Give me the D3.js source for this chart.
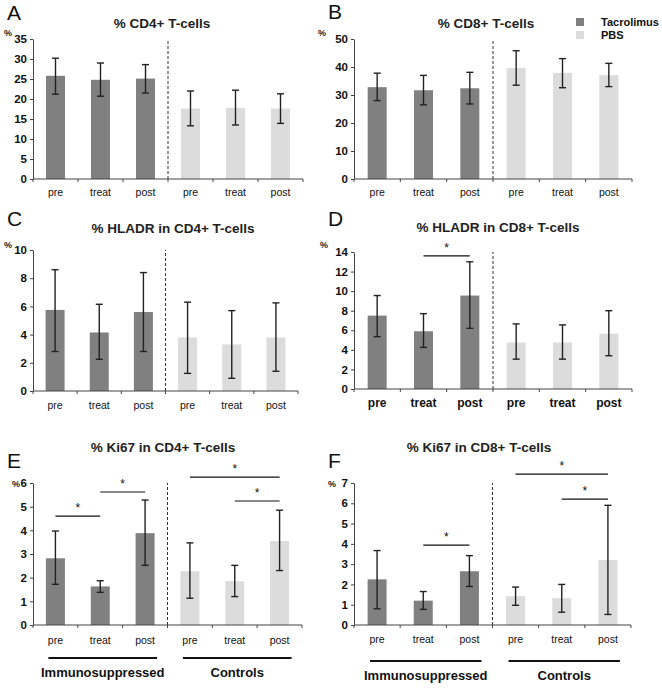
<!DOCTYPE html>
<html>
<head>
<meta charset="utf-8">
<script src="https://cdn.jsdelivr.net/npm/d3@7"></script>
<style>
  body { margin: 0; background: #fff; }
  svg { display: block; font-family: "Liberation Sans", Arial, sans-serif; }
</style>
</head>
<body>
<div id="chart"></div>
<script>
// categories and series
var categories = ["pre", "treat", "post", "pre", "treat", "post"];
var seriesNames = ["Tacrolimus", "PBS"];
var groupNames = ["Immunosuppressed", "Controls"];

// A: % CD4+ T-cells
var cd4Mean = [25.8, 24.8, 25.1, 17.6, 17.8, 17.6];
var cd4Low = [21.2, 20.7, 21.5, 13.3, 13.5, 13.9];
var cd4High = [30.2, 29.0, 28.6, 22.0, 22.2, 21.3];

// B: % CD8+ T-cells
var cd8Mean = [32.8, 31.7, 32.4, 39.6, 37.9, 37.1];
var cd8Low = [28.0, 26.5, 26.8, 33.5, 32.6, 33.0];
var cd8High = [37.8, 37.0, 38.1, 45.8, 43.0, 41.3];

// C: % HLADR in CD4+
var hlaCd4Mean = [5.75, 4.15, 5.6, 3.8, 3.3, 3.8];
var hlaCd4Low = [2.8, 2.25, 2.8, 1.25, 0.9, 1.4];
var hlaCd4High = [8.6, 6.15, 8.4, 6.3, 5.7, 6.25];

// D: % HLADR in CD8+
var hlaCd8Mean = [7.5, 5.9, 9.55, 4.75, 4.75, 5.65];
var hlaCd8Low = [5.35, 4.25, 6.2, 3.05, 3.05, 3.4];
var hlaCd8High = [9.55, 7.7, 13.0, 6.65, 6.55, 8.0];
var hlaCd8Sig = [[1, 2, 13.6]];

// E: % Ki67 in CD4+
var kiCd4Mean = [2.82, 1.63, 3.88, 2.27, 1.85, 3.55];
var kiCd4Low = [1.72, 1.38, 2.52, 1.13, 1.2, 2.3];
var kiCd4High = [3.97, 1.87, 5.28, 3.47, 2.52, 4.85];
var kiCd4Sig = [[0, 1, 4.6], [1, 2, 5.62], [3, 5, 6.25], [4, 5, 5.24]];

// F: % Ki67 in CD8+
var kiCd8Mean = [2.25, 1.2, 2.65, 1.42, 1.32, 3.2];
var kiCd8Low = [0.8, 0.77, 1.9, 0.97, 0.63, 0.52];
var kiCd8High = [3.67, 1.65, 3.42, 1.87, 2.0, 5.9];
var kiCd8Sig = [[1, 2, 3.94], [3, 5, 7.44], [4, 5, 6.21]];

var colors = ["#808080", "#dcdcdc"];

var svg = d3.select("#chart")
    .append("svg")
    .attr("width", 662)
    .attr("height", 688);

function drawPanel(p) {
    var g = svg.append("g");

    var x = d3.scaleBand()
        .domain(d3.range(categories.length))
        .range([p.x0, p.x1]);
    var y = d3.scaleLinear()
        .domain([0, p.max])
        .range([p.yBot, p.yTop]);
    var barW = 19;

    // panel letter
    g.append("text")
        .attr("x", p.x0 - 26)
        .attr("y", p.letterY)
        .style("font-size", "21px")
        .style("fill", "#111")
        .text(p.letter);

    // title
    g.append("text")
        .attr("x", p.titleX)
        .attr("y", p.titleY)
        .attr("text-anchor", "middle")
        .style("font-size", "13.5px")
        .style("font-weight", "bold")
        .style("fill", "#222")
        .text(p.title);

    // % unit
    g.append("text")
        .attr("x", p.pctX)
        .attr("y", p.pctY)
        .style("font-size", "9px")
        .style("font-weight", "bold")
        .style("fill", "#222")
        .text("%");

    // bars
    g.selectAll(".bar")
        .data(p.mean)
        .enter()
        .append("rect")
        .attr("class", "bar")
        .attr("x", function (d, i) { return x(i) + x.bandwidth() / 2 - barW / 2; })
        .attr("y", function (d) { return y(d); })
        .attr("width", barW)
        .attr("height", function (d) { return y(0) - y(d); })
        .style("fill", function (d, i) { return colors[i < 3 ? 0 : 1]; });

    // error bars
    var err = g.selectAll(".err")
        .data(p.mean.map(function (d, i) { return { i: i, lo: p.low[i], hi: p.high[i] }; }))
        .enter()
        .append("g")
        .attr("class", "err")
        .attr("stroke", "#222")
        .attr("stroke-width", 1.4);
    err.append("line")
        .attr("x1", function (d) { return x(d.i) + x.bandwidth() / 2; })
        .attr("x2", function (d) { return x(d.i) + x.bandwidth() / 2; })
        .attr("y1", function (d) { return y(d.lo); })
        .attr("y2", function (d) { return y(d.hi); });
    [ "lo", "hi" ].forEach(function (k) {
        err.append("line")
            .attr("x1", function (d) { return x(d.i) + x.bandwidth() / 2 - 3.5; })
            .attr("x2", function (d) { return x(d.i) + x.bandwidth() / 2 + 3.5; })
            .attr("y1", function (d) { return y(d[k]); })
            .attr("y2", function (d) { return y(d[k]); });
    });

    // dashed divider
    g.append("line")
        .attr("x1", x(3))
        .attr("x2", x(3))
        .attr("y1", y(0))
        .attr("y2", y(p.max))
        .attr("stroke", "#333")
        .attr("stroke-width", 1)
        .attr("stroke-dasharray", "3,2");

    // y axis
    var yAxis = d3.axisLeft(y)
        .tickValues(d3.range(0, p.max + 0.001, p.step))
        .tickFormat(d3.format("d"))
        .tickSize(3)
        .tickSizeOuter(0)
        .tickPadding(3);
    var ya = g.append("g")
        .attr("transform", "translate(" + p.x0 + ",0)")
        .call(yAxis);
    ya.selectAll("path, line").attr("stroke", "#444");
    ya.selectAll("text")
        .style("font-family", "Liberation Sans, Arial, sans-serif")
        .style("font-size", "11.5px")
        .style("font-weight", "bold")
        .style("fill", "#111");

    // x axis line with boundary ticks
    g.append("line")
        .attr("x1", p.x0)
        .attr("x2", p.x1)
        .attr("y1", y(0))
        .attr("y2", y(0))
        .attr("stroke", "#444");
    g.selectAll(".xtick")
        .data(d3.range(categories.length + 1))
        .enter()
        .append("line")
        .attr("class", "xtick")
        .attr("x1", function (d) { return d < categories.length ? x(d) : p.x1; })
        .attr("x2", function (d) { return d < categories.length ? x(d) : p.x1; })
        .attr("y1", y(0))
        .attr("y2", y(0) + 3)
        .attr("stroke", "#444");

    // category labels
    g.selectAll(".xlab")
        .data(categories)
        .enter()
        .append("text")
        .attr("class", "xlab")
        .attr("x", function (d, i) { return x(i) + x.bandwidth() / 2; })
        .attr("y", y(0) + p.labOff)
        .attr("text-anchor", "middle")
        .style("font-size", p.boldLabels ? "12px" : "10.5px")
        .style("font-weight", p.boldLabels ? "bold" : "normal")
        .style("fill", "#111")
        .text(function (d) { return d; });

    // significance brackets
    (p.sig || []).forEach(function (s) {
        var xa = x(s[0]) + x.bandwidth() / 2;
        var xb = x(s[1]) + x.bandwidth() / 2;
        g.append("line")
            .attr("x1", xa)
            .attr("x2", xb)
            .attr("y1", y(s[2]))
            .attr("y2", y(s[2]))
            .attr("stroke", "#111")
            .attr("stroke-width", 1.2);
        g.append("text")
            .attr("x", (xa + xb) / 2)
            .attr("y", y(s[2]) - 4)
            .attr("text-anchor", "middle")
            .style("font-size", "12px")
            .style("fill", "#111")
            .text("*");
    });

    // group labels under axis
    if (p.groups) {
        [[0, 2], [3, 5]].forEach(function (r, gi) {
            var xa = x(r[0]) + x.bandwidth() / 2 - 7;
            var xb = x(r[1]) + x.bandwidth() / 2 + 12;
            g.append("line")
                .attr("x1", xa)
                .attr("x2", xb)
                .attr("y1", y(0) + p.groupLineOff)
                .attr("y2", y(0) + p.groupLineOff)
                .attr("stroke", "#111")
                .attr("stroke-width", 2);
            g.append("text")
                .attr("x", (xa + xb) / 2)
                .attr("y", y(0) + p.groupLineOff + 19)
                .attr("text-anchor", "middle")
                .style("font-size", "13px")
                .style("font-weight", "bold")
                .style("fill", "#111")
                .text(groupNames[gi]);
        });
    }
}

drawPanel({ letter: "A", title: "% CD4+ T-cells", x0: 33, x1: 303, yTop: 39, yBot: 179,
    max: 35, step: 5, mean: cd4Mean, low: cd4Low, high: cd4High,
    letterY: 20, titleX: 162, titleY: 28, pctX: 4, pctY: 36, labOff: 17 });
drawPanel({ letter: "B", title: "% CD8+ T-cells", x0: 354, x1: 632, yTop: 39, yBot: 179,
    max: 50, step: 10, mean: cd8Mean, low: cd8Low, high: cd8High,
    letterY: 19, titleX: 486, titleY: 28, pctX: 318, pctY: 36, labOff: 17 });
drawPanel({ letter: "C", title: "% HLADR in CD4+ T-cells", x0: 33, x1: 298, yTop: 250, yBot: 391,
    max: 10, step: 2, mean: hlaCd4Mean, low: hlaCd4Low, high: hlaCd4High,
    letterY: 226, titleX: 173, titleY: 233, pctX: 4, pctY: 248, labOff: 18 });
drawPanel({ letter: "D", title: "% HLADR in CD8+ T-cells", x0: 354, x1: 632, yTop: 252, yBot: 389,
    max: 14, step: 2, mean: hlaCd8Mean, low: hlaCd8Low, high: hlaCd8High, sig: hlaCd8Sig,
    letterY: 226, titleX: 498, titleY: 232, pctX: 320, pctY: 248, labOff: 18, boldLabels: true });
drawPanel({ letter: "E", title: "% Ki67 in CD4+ T-cells", x0: 33, x1: 302, yTop: 483, yBot: 625,
    max: 6, step: 1, mean: kiCd4Mean, low: kiCd4Low, high: kiCd4High, sig: kiCd4Sig,
    letterY: 468, titleX: 163, titleY: 452, pctX: 12, pctY: 487, labOff: 19,
    groups: true, groupLineOff: 33 });
drawPanel({ letter: "F", title: "% Ki67 in CD8+ T-cells", x0: 354, x1: 631, yTop: 483, yBot: 625,
    max: 7, step: 1, mean: kiCd8Mean, low: kiCd8Low, high: kiCd8High, sig: kiCd8Sig,
    letterY: 468, titleX: 479, titleY: 452, pctX: 328, pctY: 487, labOff: 18,
    groups: true, groupLineOff: 36 });

// legend
var legend = svg.append("g").attr("transform", "translate(576,18)");
seriesNames.forEach(function (name, i) {
    legend.append("rect")
        .attr("x", 0)
        .attr("y", i * 13)
        .attr("width", 8)
        .attr("height", 8)
        .style("fill", colors[i]);
    legend.append("text")
        .attr("x", 25)
        .attr("y", i * 13 + 8)
        .style("font-size", "11px")
        .style("font-weight", "bold")
        .style("fill", "#111")
        .text(name);
});
</script>
</body>
</html>
